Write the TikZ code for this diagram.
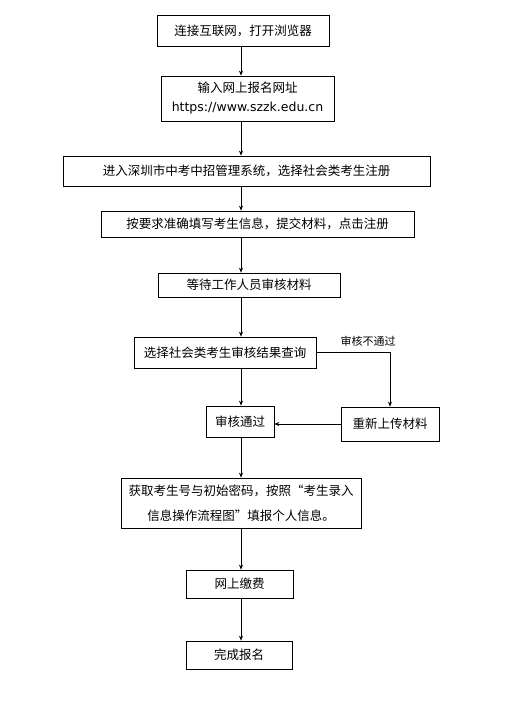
\documentclass[tikz,border=0pt]{standalone}
\usepackage{fontspec}
\setmainfont{Noto Sans CJK SC}
\newfontfamily\urlfont{DejaVu Sans}
\usetikzlibrary{arrows.meta}

\tikzset{
  stepbox/.style={draw, line width=0.7pt, inner sep=0pt, align=center,
    font=\fontsize{12.5}{19}\selectfont},
  arr/.style={-{Stealth[length=5pt,width=4pt]}, line width=0.7pt},
}

\begin{document}
\begin{tikzpicture}[x=1pt, y=-1pt]
    \useasboundingbox (0, 0) rectangle (520, 723);
    \node [stepbox, minimum width=172, minimum height=31] (connect) at (243, 30.5) {连接互联网，打开浏览器};
    \node [stepbox, minimum width=173, minimum height=45] (url) at (247.5, 98.5) {输入网上报名网址\\{\urlfont https://www.szzk.edu.cn}};
    \node [stepbox, minimum width=367, minimum height=30] (enter) at (246.5, 171) {进入深圳市中考中招管理系统，选择社会类考生注册};
    \node [stepbox, minimum width=313, minimum height=26] (fill) at (257.5, 224) {按要求准确填写考生信息，提交材料，点击注册};
    \node [stepbox, minimum width=182, minimum height=24] (wait) at (249, 285) {等待工作人员审核材料};
    \node [stepbox, minimum width=182, minimum height=31] (query) at (225, 352.5) {选择社会类考生审核结果查询};
    \node [stepbox, minimum width=68, minimum height=31] (pass) at (240, 421.5) {审核通过};
    \node [stepbox, minimum width=98, minimum height=34] (reupload) at (390, 424) {重新上传材料};
    \node [stepbox, minimum width=240, minimum height=50, font=\fontsize{12.5}{25}\selectfont] (account) at (241, 503) {获取考生号与初始密码，按照“考生录入\\信息操作流程图”填报个人信息。};
    \node [stepbox, minimum width=107, minimum height=28] (pay) at (239.5, 584) {网上缴费};
    \node [stepbox, minimum width=106, minimum height=28] (done) at (239, 655) {完成报名};

    \node [font=\fontsize{11}{12}\selectfont] (fail) at (368, 341) {审核不通过};

    % main column of arrows
    \coordinate (col) at (241, 0);
    \draw[arr] (connect.south -| col) -- (url.north -| col);
    \draw[arr] (url.south -| col) -- (enter.north -| col);
    \draw[arr] (enter.south -| col) -- (fill.north -| col);
    \draw[arr] (fill.south -| col) -- (wait.north -| col);
    \draw[arr] (wait.south -| col) -- (query.north -| col);
    \draw[arr] (query.south -| col) -- (pass.north -| col);
    \draw[arr] (pass.south -| col) -- (account.north -| col);
    \draw[arr] (account.south -| col) -- (pay.north -| col);
    \draw[arr] (pay.south -| col) -- (done.north -| col);

    % not passed branch
    \draw[arr] (query.east) -| (reupload.north);
    \draw[arr] (reupload.west) -- (pass.east |- reupload.west);
\end{tikzpicture}
\end{document}
